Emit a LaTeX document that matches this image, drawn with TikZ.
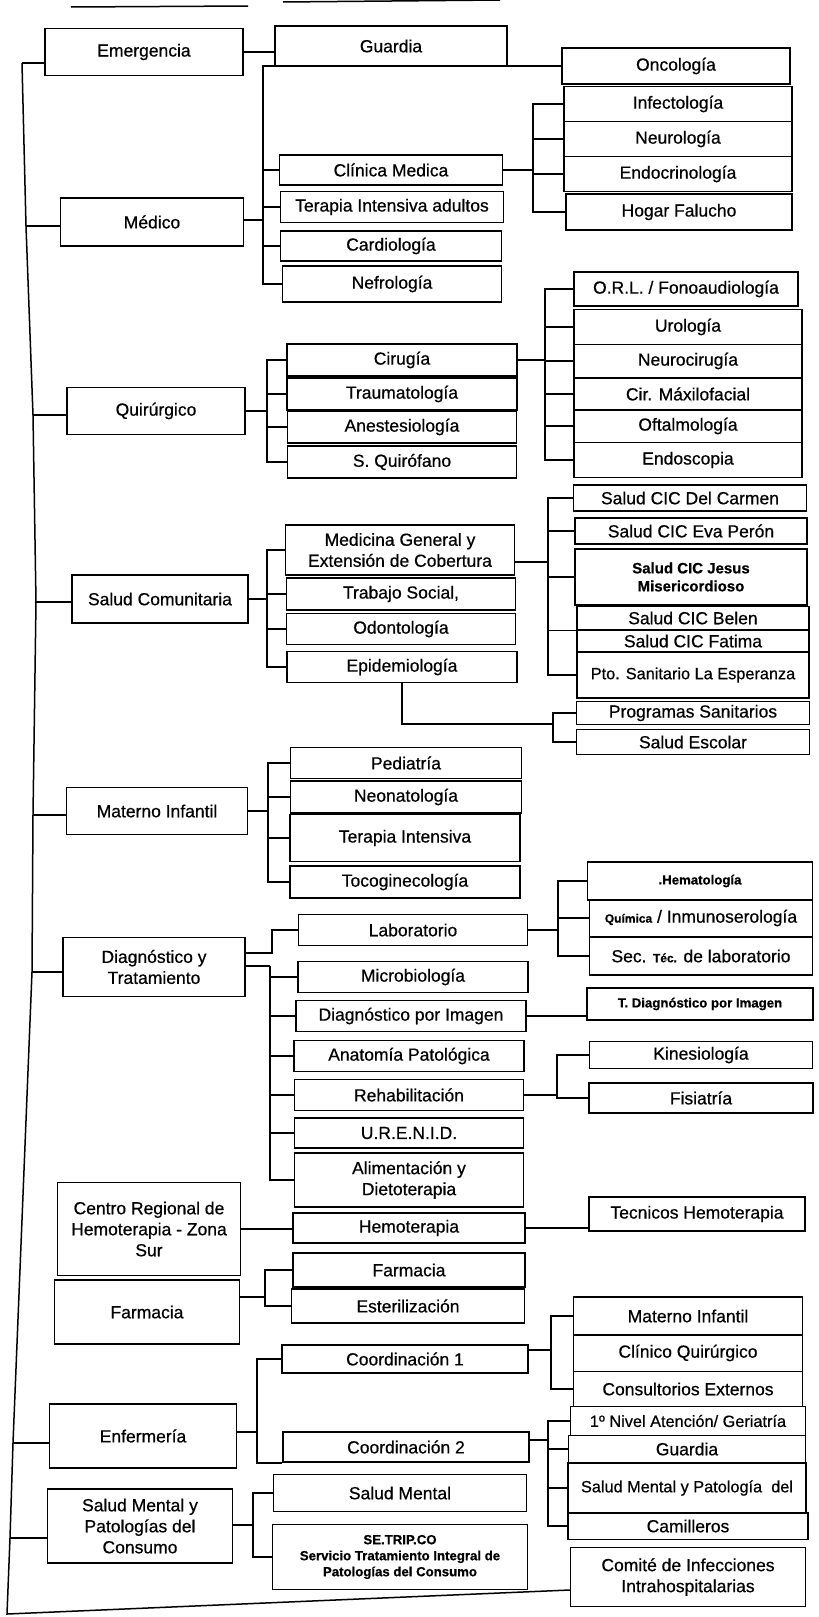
\documentclass[tikz,border=0pt]{standalone}
\usepackage{fontspec}
\setmainfont{Liberation Sans}[FakeBold=0.6]
\usepackage{tikz}

\begin{document}
\begin{tikzpicture}[
    x=1pt, y=-1pt,
    line width=1.5pt,
    node_box/.style={draw, inner sep=0pt, align=center, font=\fontsize{17.5}{21}\selectfont},
    node_sz/.style 2 args={minimum width=#1pt, minimum height=#2pt},
    node_less/.style={font=\fontsize{16.3}{19}\selectfont},
    node_mid/.style={font=\bfseries\fontsize{15}{18}\selectfont},
    node_tiny/.style={font=\bfseries\fontsize{13.2}{16}\selectfont}
  ]
    \useasboundingbox (0,0) rectangle (819,1617);
    \draw (71,7) -- (248,6);
    \draw (283,2) -- (500,0);

    % first level
    \node[node_box, node_sz={198}{47}] (emerg) at (144,52) {Emergencia};
    \node[node_box, node_sz={183}{48}] (medico) at (152,222) {Médico};
    \node[node_box, node_sz={178}{47}] (quir) at (156,411) {Quirúrgico};
    \node[node_box, node_sz={176}{48}] (saludc) at (160,599) {Salud Comunitaria};
    \node[node_box, node_sz={181}{47}] (materno) at (157,811) {Materno Infantil};
    \node[node_box, node_sz={182}{59}] (diag) at (154,967) {Diagnóstico y\\Tratamiento};
    \node[node_box, node_sz={183}{93}] (centro) at (149,1229) {Centro Regional de\\Hemoterapia - Zona\\Sur};
    \node[node_box, node_sz={185}{64}] (farm) at (147,1312) {Farmacia};
    \node[node_box, node_sz={187}{64}] (enf) at (143,1436) {Enfermería};
    \node[node_box, node_sz={185}{74}] (smental) at (140,1526) {Salud Mental y\\Patologías del\\Consumo};

    % second level
    \node[node_box, node_sz={232}{40}] (guardia) at (391,46) {Guardia};
    \node[node_box, node_sz={223}{30}] (clinica) at (391,170) {Clínica Medica};
    \node[node_box, node_sz={223}{31}] (terapiaA) at (392,207) {Terapia Intensiva adultos};
    \node[node_box, node_sz={221}{30}] (cardio) at (391,246) {Cardiología};
    \node[node_box, node_sz={219}{36}] (nefro) at (392,284) {Nefrología};
    \node[node_box, node_sz={230}{32}] (cirugia) at (402,360) {Cirugía};
    \node[node_box, node_sz={230}{32}] (trauma) at (402,394) {Traumatología};
    \node[node_box, node_sz={229}{32}] (anest) at (402,427) {Anestesiología};
    \node[node_box, node_sz={229}{32}] (squir) at (402,462) {S. Quirófano};
    \node[node_box, node_sz={229}{50}] (medgen) at (400,550) {Medicina General y\\Extensión de Cobertura};
    \node[node_box, node_sz={229}{32}] (trabajo) at (401,594) {Trabajo Social,};
    \node[node_box, node_sz={229}{31}] (odonto) at (401,629) {Odontología};
    \node[node_box, node_sz={230}{31}] (epidem) at (402,667) {Epidemiología};
    \node[node_box, node_sz={231}{31}] (pedia) at (406,763) {Pediatría};
    \node[node_box, node_sz={231}{32}] (neona) at (406,797) {Neonatología};
    \node[node_box, node_sz={230}{47}] (terapiaI) at (405,838) {Terapia Intensiva};
    \node[node_box, node_sz={230}{32}] (tocog) at (405,882) {Tocoginecología};
    \node[node_box, node_sz={229}{31}] (lab) at (413,930) {Laboratorio};
    \node[node_box, node_sz={230}{31}] (micro) at (413,977) {Microbiología};
    \node[node_box, node_sz={230}{31}] (dimagen) at (411,1016) {Diagnóstico por Imagen};
    \node[node_box, node_sz={230}{31}] (anato) at (409,1056) {Anatomía Patológica};
    \node[node_box, node_sz={229}{31}] (rehab) at (409,1095) {Rehabilitación};
    \node[node_box, node_sz={229}{30}] (urenid) at (409,1133) {U.R.E.N.I.D.};
    \node[node_box, node_sz={229}{54}] (alim) at (409,1180) {Alimentación y\\Dietoterapia};
    \node[node_box, node_sz={232}{30}] (hemot) at (409,1228) {Hemoterapia};
    \node[node_box, node_sz={232}{34}] (farmB) at (409,1270) {Farmacia};
    \node[node_box, node_sz={233}{34}] (ester) at (408,1306) {Esterilización};
    \node[node_box, node_sz={246}{28}] (coordA) at (405,1359) {Coordinación 1};
    \node[node_box, node_sz={246}{30}] (coordB) at (406,1447) {Coordinación 2};
    \node[node_box, node_sz={253}{37}] (smentalB) at (400,1493) {Salud Mental};
    \node[node_box, node_tiny, node_sz={255}{65}] (setripco) at (400,1557) {SE.TRIP.CO\\Servicio Tratamiento Integral de\\Patologías del Consumo};

    % third level
    \node[node_box, node_sz={228}{36}] (onco) at (676,66) {Oncología};
    \node[node_box, node_sz={228}{35}] (infec) at (678,104) {Infectología};
    \node[node_box, node_sz={228}{35}] (neuro) at (678,139) {Neurología};
    \node[node_box, node_sz={228}{35}] (endo) at (678,174) {Endocrinología};
    \node[node_box, node_sz={226}{36}] (hogar) at (679,212) {Hogar Falucho};
    \node[node_box, node_sz={224}{34}] (orl) at (686,289) {O.R.L. / Fonoaudiología};
    \node[node_box, node_sz={228}{35}] (uro) at (688,327) {Urología};
    \node[node_box, node_sz={228}{33}] (neurocir) at (688,361) {Neurocirugía};
    \node[node_box, node_sz={228}{32}] (cirmax) at (688,394) {Cir. Máxilofacial};
    \node[node_box, node_sz={228}{33}] (oftal) at (688,426) {Oftalmología};
    \node[node_box, node_sz={228}{35}] (endos) at (688,460) {Endoscopia};
    \node[node_box, node_sz={233}{26}] (carmen) at (690,498) {Salud CIC Del Carmen};
    \node[node_box, node_sz={232}{26}] (eva) at (691,531) {Salud CIC Eva Perón};
    \node[node_box, node_mid, node_sz={232}{56}] (jesus) at (691,577) {Salud CIC Jesus\\Misericordioso};
    \node[node_box, node_sz={232}{23}] (belen) at (693,618) {Salud CIC Belen};
    \node[node_box, node_sz={232}{22}] (fatima) at (693,641) {Salud CIC Fatima};
    \node[node_box, node_less, node_sz={232}{46}] (pto) at (693,675) {Pto. Sanitario La Esperanza};
    \node[node_box, node_sz={233}{23}] (prog) at (693,713) {Programas Sanitarios};
    \node[node_box, node_sz={233}{25}] (escolar) at (693,742) {Salud Escolar};
    \node[node_box, node_tiny, node_sz={225}{38}] (hemat) at (700,881) {.Hematología};
    \node[node_box, node_sz={223}{37}] (quim) at (701,918) {{\bfseries\fontsize{12}{14}\selectfont Química} / Inmunoserología};
    \node[node_box, node_sz={223}{38}] (sec) at (701,956) {Sec. {\bfseries\fontsize{12}{14}\selectfont Téc.} de laboratorio};
    \node[node_box, node_tiny, node_sz={226}{32}] (tdiag) at (700,1004) {T. Diagnóstico por Imagen};
    \node[node_box, node_sz={223}{27}] (kine) at (701,1055) {Kinesiología};
    \node[node_box, node_sz={224}{30}] (fisi) at (701,1098) {Fisiatría};
    \node[node_box, node_sz={216}{34}] (tecnicos) at (697,1214) {Tecnicos Hemoterapia};
    \node[node_box, node_sz={229}{38}] (matB) at (688,1316) {Materno Infantil};
    \node[node_box, node_sz={229}{37}] (clinq) at (688,1353) {Clínico Quirúrgico};
    \node[node_box, node_sz={229}{35}] (consult) at (688,1389) {Consultorios Externos};
    \node[node_box, node_less, node_sz={235}{29}] (nivel) at (688,1421) {1º Nivel Atención/ Geriatría};
    \node[node_box, node_sz={237}{27}] (guardB) at (687,1449) {Guardia};
    \node[node_box, node_less, node_sz={238}{50}] (smpat) at (687,1488) {Salud Mental y Patología\ \ del};
    \node[node_box, node_sz={240}{27}] (camil) at (688,1526) {Camilleros};
    \node[node_box, node_sz={235}{59}] (comite) at (688,1577) {Comité de Infecciones\\Intrahospitalarias};

    % trunk
    \coordinate (tE) at (22,63);
    \coordinate (tM) at (26,226);
    \coordinate (tQ) at (33,415);
    \coordinate (tS) at (36,602);
    \coordinate (tMI) at (33,815);
    \coordinate (tD) at (32,972);
    \coordinate (tEn) at (13,1443);
    \coordinate (tSM) at (10,1538);
    \coordinate (tB) at (7,1614);
    \draw (tE) -- (tM) -- (tQ) -- (tS) -- (tMI) -- (tD) -- (tEn) -- (tSM) -- (tB) -- ([yshift=-13pt]comite.west);
    \foreach \t/\n in {tE/emerg, tM/medico, tQ/quir, tS/saludc, tMI/materno, tD/diag, tEn/enf, tSM/smental}
      \draw (\t) -- (\t -| \n.west);

    % brackets
    \coordinate (bMed) at (263,220);
    \coordinate (bCli) at (533,170);
    \coordinate (bQ) at (267,411);
    \coordinate (bCir) at (545,360);
    \coordinate (bS) at (267,599);
    \coordinate (bMG) at (548,562);
    \coordinate (bEpi) at (553,724);
    \coordinate (bMI) at (268,811);
    \coordinate (bLab) at (272,953);
    \coordinate (bDiag) at (270,966);
    \coordinate (bLabB) at (558,930);
    \coordinate (bRehab) at (557,1095);
    \coordinate (bFarm) at (265,1297);
    \coordinate (bEnf) at (257,1432);
    \coordinate (bCA) at (551,1350);
    \coordinate (bCB) at (548,1440);
    \coordinate (bSM) at (253,1525);

    \draw (emerg.east) -- (emerg.east -| guardia.west);
    \draw (medico.east |- bMed) -- (bMed);
    \foreach \n in {onco, clinica, terapiaA, cardio, nefro}
      \draw (bMed) |- (\n.west);
    \draw (clinica.east) -- (bCli);
    \foreach \n in {infec, neuro, endo, hogar}
      \draw (bCli) |- (\n.west);
    \draw (quir.east) -- (bQ);
    \foreach \n in {cirugia, trauma, anest, squir}
      \draw (bQ) |- (\n.west);
    \draw (cirugia.east) -- (bCir);
    \foreach \n in {orl, uro, neurocir, cirmax, oftal, endos}
      \draw (bCir) |- (\n.west);
    \draw (saludc.east) -- (bS);
    \foreach \n in {medgen, trabajo, odonto, epidem}
      \draw (bS) |- (\n.west);
    \draw (medgen.east |- bMG) -- (bMG);
    \foreach \n in {carmen.west, eva.west, jesus.west, belen.south west, pto.west}
      \draw (bMG) |- (\n);
    \draw (epidem.south) |- (bEpi);
    \foreach \n in {prog, escolar}
      \draw (bEpi) |- (\n.west);
    \draw (materno.east) -- (bMI);
    \foreach \n in {pedia, neona, terapiaI, tocog}
      \draw (bMI) |- (\n.west);
    \draw (diag.east |- bLab) -- (bLab) |- (lab.west);
    \draw (diag.east |- bDiag) -- (bDiag);
    \foreach \n in {micro, dimagen, anato, rehab, urenid, alim}
      \draw (bDiag) |- (\n.west);
    \draw (lab.east) -- (bLabB);
    \foreach \n in {hemat, quim, sec}
      \draw (bLabB) |- (\n.west);
    \draw (dimagen.east) -- (dimagen.east -| tdiag.west);
    \draw (rehab.east) -- (bRehab);
    \foreach \n in {kine, fisi}
      \draw (bRehab) |- (\n.west);
    \draw (centro.east) -- (centro.east -| hemot.west);
    \draw (hemot.east) -- (hemot.east -| tecnicos.west);
    \draw (farm.east |- bFarm) -- (bFarm);
    \foreach \n in {farmB, ester}
      \draw (bFarm) |- (\n.west);
    \draw (enf.east |- bEnf) -- (bEnf);
    \draw (bEnf) |- (coordA.west);
    \draw (bEnf) |- (coordB.south west);
    \draw (coordA.east |- bCA) -- (bCA);
    \foreach \n in {matB, consult}
      \draw (bCA) |- (\n.west);
    \draw (coordB.east |- bCB) -- (bCB);
    \foreach \n in {nivel, guardB, smpat, camil}
      \draw (bCB) |- (\n.west);
    \draw (smental.east |- bSM) -- (bSM);
    \foreach \n in {smentalB, setripco}
      \draw (bSM) |- (\n.west);
  \end{tikzpicture}
\end{document}
